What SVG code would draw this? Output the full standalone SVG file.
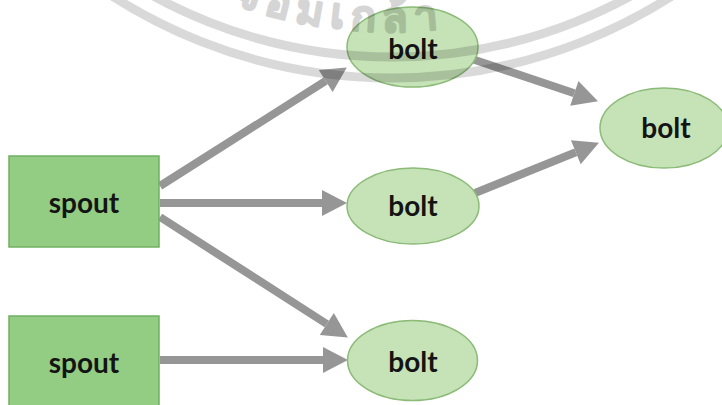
<svg xmlns="http://www.w3.org/2000/svg" width="722" height="405" viewBox="0 0 722 405">
  <style>
    .spout rect { fill: #93cd84; stroke: #72b061; stroke-width: 1.5; }
    .bolt ellipse { fill: #c6e3b8; stroke: #8cbb78; stroke-width: 1.5; }
    .label { font-family: Lato, "Open Sans", "Liberation Sans", sans-serif; font-weight: 700; font-size: 28px; fill: #141414; text-anchor: middle; }
    .edge { stroke: #969696; stroke-width: 8; fill: none; marker-end: url(#head); }
    .seal { fill: none; stroke: #000; stroke-opacity: 0.15; stroke-width: 9; }
    .seal-text { font-family: "Noto Sans", "DejaVu Sans", sans-serif; font-weight: 700; font-size: 42px; fill: #000; stroke: #000; stroke-width: 2; stroke-linejoin: round; letter-spacing: 7px; }
  </style>
  <defs>
    <marker id="head" markerUnits="userSpaceOnUse" markerWidth="26" markerHeight="26" refX="0" refY="13" orient="auto" overflow="visible">
      <path d="M0,0 L25,13 L0,26 z" fill="#969696"/>
    </marker>
    <path id="sealArc" d="M150,-36 A467,467 0 0,0 634,-36"/>
  </defs>

  <rect width="722" height="405" fill="#ffffff"/>

  <!-- connectors -->
  <g id="edges">
    <line class="edge" x1="160" y1="186" x2="325.7" y2="80.9"/>
    <line class="edge" x1="160" y1="203" x2="322" y2="203"/>
    <line class="edge" x1="160" y1="217" x2="326.8" y2="324"/>
    <line class="edge" x1="160" y1="360" x2="323" y2="360"/>
    <line class="edge" x1="472" y1="59" x2="574.3" y2="93.3"/>
    <line class="edge" x1="475" y1="193" x2="575.8" y2="152.2"/>
  </g>

  <!-- spouts -->
  <g id="spout1" class="spout">
    <rect x="9" y="156" width="150" height="91"/>
    <text class="label" x="84" y="213">spout</text>
  </g>
  <g id="spout2" class="spout">
    <rect x="9" y="316" width="150" height="91"/>
    <text class="label" x="84" y="373">spout</text>
  </g>

  <!-- bolts -->
  <g id="bolt1" class="bolt">
    <ellipse cx="412.5" cy="47" rx="65.5" ry="40"/>
    <text class="label" x="413" y="59">bolt</text>
  </g>
  <g id="bolt2" class="bolt">
    <ellipse cx="413" cy="206" rx="66" ry="38"/>
    <text class="label" x="413" y="216">bolt</text>
  </g>
  <g id="bolt3" class="bolt">
    <ellipse cx="412.5" cy="360.5" rx="65" ry="40"/>
    <text class="label" x="413" y="372">bolt</text>
  </g>
  <g id="bolt4" class="bolt">
    <ellipse cx="664" cy="128" rx="64" ry="40"/>
    <text class="label" x="666" y="138">bolt</text>
  </g>

  <!-- seal watermark, laid over the drawing -->
  <g id="seal">
    <circle class="seal" cx="392" cy="-440" r="497"/>
    <circle class="seal" cx="392" cy="-440" r="518"/>
    <g opacity="0.16">
      <text class="seal-text"><textPath href="#sealArc" startOffset="92">จอมเกล้า</textPath></text>
    </g>
  </g>
</svg>
